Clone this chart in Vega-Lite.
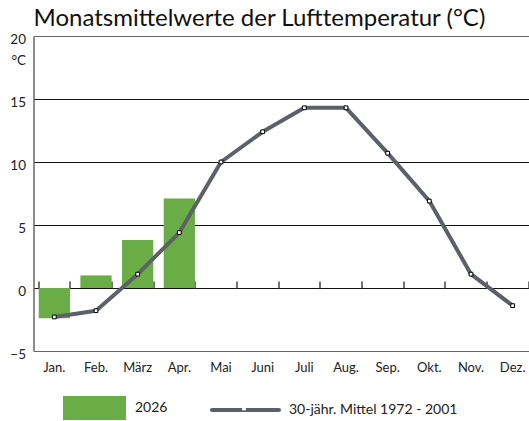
{
  "$schema": "https://vega.github.io/schema/vega-lite/v6.json",
  "width": 495.5,
  "height": 315,
  "autosize": {"type": "none"},
  "padding": {"left": 33.5, "top": 36, "right": 0, "bottom": 70},
  "background": "white",
  "title": {"text": "Monatsmittelwerte der Lufttemperatur (°C)", "anchor": "start", "frame": "group", "fontSize": 24, "font": "Lato", "fontWeight": "normal", "color": "#111", "offset": 1},
  "config": {"view": {"stroke": null}, "font": "Lato"},
  "data": {"values": [
    {"Monat": "Jan.", "t2026": -2.4, "mittel": -2.3},
    {"Monat": "Feb.", "t2026": 1.0, "mittel": -1.8},
    {"Monat": "März", "t2026": 3.8, "mittel": 1.1},
    {"Monat": "Apr.", "t2026": 7.1, "mittel": 4.4},
    {"Monat": "Mai", "t2026": null, "mittel": 10.0},
    {"Monat": "Juni", "t2026": null, "mittel": 12.4},
    {"Monat": "Juli", "t2026": null, "mittel": 14.3},
    {"Monat": "Aug.", "t2026": null, "mittel": 14.3},
    {"Monat": "Sep.", "t2026": null, "mittel": 10.7},
    {"Monat": "Okt.", "t2026": null, "mittel": 6.9},
    {"Monat": "Nov.", "t2026": null, "mittel": 1.1},
    {"Monat": "Dez.", "t2026": null, "mittel": -1.4}
  ]},
  "resolve": {"axis": {"x": "independent"}},
  "layer": [
    {
      "mark": {"type": "bar"},
      "encoding": {
        "x": {"field": "Monat", "type": "nominal", "sort": null,
          "scale": {"range": [0, 500], "paddingInner": 0.25, "paddingOuter": 0.125},
          "axis": {"orient": "bottom", "title": null, "labelAngle": 0, "ticks": false, "domain": false, "grid": false, "labelPadding": 10, "labelFontSize": 13, "labelColor": "#222"}},
        "y": {"field": "t2026", "type": "quantitative",
          "scale": {"domain": [-5, 20], "nice": false, "zero": false},
          "axis": {"values": [-5, 0, 5, 10, 15, 20], "grid": true,
            "gridColor": {"condition": {"test": "datum.value == 20 || datum.value == -5", "value": "#666"}, "value": "#111"},
            "gridWidth": 1.2, "ticks": false, "domain": true, "domainColor": "#666", "domainWidth": 1.5,
            "labelFontSize": 13.5, "labelPadding": 8, "labelOffset": 3, "labelColor": "#222",
            "title": "°C", "titleAngle": 0, "titleAlign": "right", "titleX": -8, "titleY": 24, "titleBaseline": "middle", "titleFontWeight": "normal", "titleFontSize": 13.5, "titleColor": "#222"}},
        "fill": {"datum": "2026", "scale": {"range": ["#6aac46"]},
          "legend": {"orient": "none", "legendX": 29.5, "legendY": 340.5, "title": null, "padding": 0,
            "symbolType": "M-1,-0.381H1V0.381H-1Z", "symbolSize": 3969, "symbolStrokeWidth": 0, "symbolOpacity": 1,
            "labelFontSize": 14, "labelOffset": 9, "labelColor": "#222", "labelLimit": 0}}
      }
    },
    {
      "mark": {"type": "line", "strokeWidth": 4, "strokeJoin": "round", "strokeCap": "butt"},
      "encoding": {
        "x": {"field": "Monat", "type": "nominal", "sort": null,
          "axis": {"orient": "bottom", "offset": -63, "title": null, "labels": false, "ticks": true, "tickSize": -7, "tickBand": "extent", "tickColor": "#444", "tickWidth": 1.5, "domain": false, "grid": false}},
        "y": {"field": "mittel", "type": "quantitative"},
        "stroke": {"datum": "30-jähr. Mittel 1972 - 2001", "scale": {"range": ["#5e6068"]},
          "legend": {"orient": "none", "legendX": 176.5, "legendY": 338.5, "title": null, "padding": 0,
            "symbolType": "stroke", "symbolSize": 4489, "symbolStrokeWidth": 4,
            "labelFontSize": 14, "labelOffset": 8, "labelColor": "#222", "labelLimit": 0,
            "encode": {"symbols": {"update": {"strokeCap": {"value": "round"}}}}}}
      }
    },
    {
      "mark": {"type": "point", "filled": true, "fill": "white", "stroke": "black", "strokeWidth": 1, "size": 14, "opacity": 1},
      "encoding": {
        "x": {"field": "Monat", "type": "nominal", "sort": null, "axis": null},
        "y": {"field": "mittel", "type": "quantitative"},
        "shape": {"datum": "marker", "scale": {"range": ["square"]},
          "legend": {"orient": "none", "legendX": 208, "legendY": 370, "title": null, "padding": 0,
            "symbolType": "square", "symbolSize": 14, "symbolFillColor": "white", "symbolStrokeColor": "black", "symbolStrokeWidth": 1,
            "labelExpr": "''", "labelFontSize": 1}}
      }
    }
  ]
}
